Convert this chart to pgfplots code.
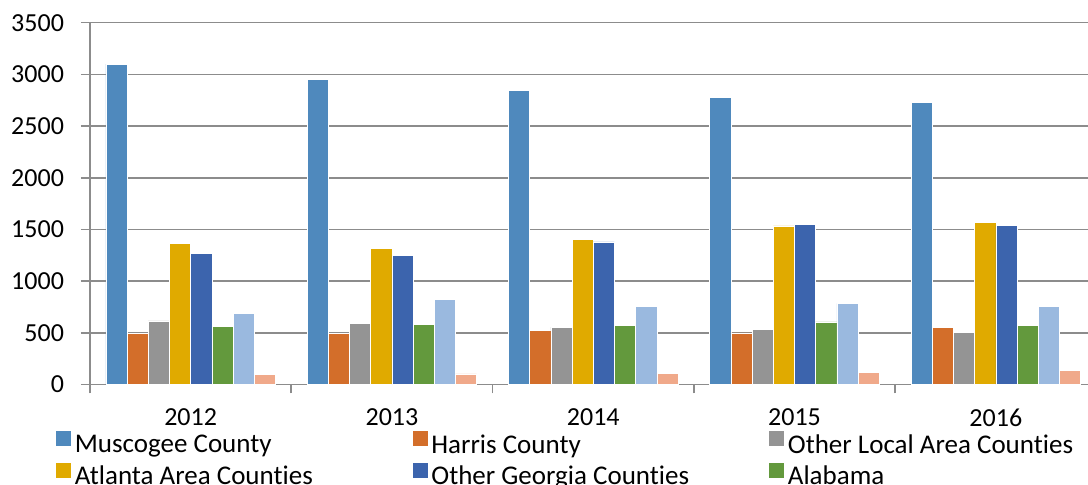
\documentclass[border=0pt]{standalone}
\usepackage{pgfplots}
\pgfplotsset{compat=1.18}
\usepackage{fontspec}
\setmainfont{Carlito}[Ligatures=NoCommon]

\definecolor{cMuscogee}{HTML}{4F89BD}
\definecolor{cHarris}{HTML}{D36E2A}
\definecolor{cLocal}{HTML}{949494}
\definecolor{cAtlanta}{HTML}{E0AA00}
\definecolor{cGeorgia}{HTML}{3C64AD}
\definecolor{cAlabama}{HTML}{63993D}
\definecolor{cSeven}{HTML}{9AB9DF}
\definecolor{cEight}{HTML}{F0A98A}
\definecolor{axisgray}{HTML}{8C8C8C}

\newcommand{\tfont}{\fontsize{13}{15.5}\selectfont}
\newcommand{\lfont}{\fontsize{13.5}{16}\selectfont}

\begin{document}
\begin{tikzpicture}
\begin{axis}[
    at={(0,0)}, anchor=south west,
    scale only axis,
    width=503.25pt, height=180.9pt,
    ybar=0pt, bar width=10.6pt,
    xmin=0.5, xmax=5.5,
    ymin=0, ymax=3500,
    ytick={0,500,...,3500},
    xtick={0.5,1.5,...,5.5}, xticklabels={},
    extra x ticks={1,2,3,4,5},
    extra x tick labels={2012,2013,2014,2015,2016},
    extra x tick style={major tick length=0pt, xticklabel style={yshift=-8.5pt}},
    yticklabel style={xshift=-5pt},
    axis x line*=bottom, axis y line*=left,
    axis line style={draw=axisgray, line width=0.8pt},
    ymajorgrids,
    grid style={draw=axisgray, line width=0.8pt},
    tick align=outside, major tick length=4.5pt,
    tick style={draw=axisgray, line width=0.8pt},
    /pgf/number format/assume math mode=true,
    /pgf/number format/1000 sep={},
    tick label style={font=\tfont, text=black},
    legend columns=3,
    legend cell align=left,
    legend style={at={(0,0)}, anchor=north west, xshift=-17pt, yshift=-23pt,
        draw=none, fill=none, inner sep=0pt, font=\lfont,
        nodes={inner sep=1.75pt},
        /tikz/every even column/.append style={column sep=0pt},
        /tikz/row sep=1.5pt},
    legend image code/.code={\path[#1,draw=none] (0pt,-0.5pt) rectangle (7.5pt,7pt);},
]
% Muscogee County
\addplot[fill=cMuscogee, draw=white, line width=0.3pt] coordinates {(1,3100) (2,2955) (3,2845) (4,2780) (5,2730)};
% Harris County
\addplot[fill=cHarris, draw=white, line width=0.3pt] coordinates {(1,495) (2,495) (3,525) (4,500) (5,555)};
% Other Local Area Counties
\addplot[fill=cLocal, draw=white, line width=0.3pt] coordinates {(1,615) (2,590) (3,555) (4,530) (5,505)};
% Atlanta Area Counties
\addplot[fill=cAtlanta, draw=white, line width=0.3pt] coordinates {(1,1365) (2,1320) (3,1405) (4,1535) (5,1570)};
% Other Georgia Counties
\addplot[fill=cGeorgia, draw=white, line width=0.3pt] coordinates {(1,1270) (2,1250) (3,1380) (4,1550) (5,1540)};
% Alabama
\addplot[fill=cAlabama, draw=white, line width=0.3pt] coordinates {(1,560) (2,578) (3,575) (4,605) (5,572)};
% series 7 (legend entry cut off in the reference)
\addplot[fill=cSeven, draw=white, line width=0.3pt] coordinates {(1,688) (2,826) (3,755) (4,785) (5,752)};
% series 8 (legend entry cut off in the reference)
\addplot[fill=cEight, draw=white, line width=0.3pt] coordinates {(1,100) (2,103) (3,110) (4,117) (5,135)};
\addlegendentry{\makebox[167.25pt][l]{Muscogee County}}
\addlegendentry{\makebox[167.25pt][l]{Harris County}}
\addlegendentry{\makebox[167.25pt][l]{Other Local Area Counties}}
\addlegendentry{\makebox[167.25pt][l]{Atlanta Area Counties}}
\addlegendentry{\makebox[167.25pt][l]{Other Georgia Counties}}
\addlegendentry{\makebox[167.25pt][l]{Alabama}}
\end{axis}
\pgfresetboundingbox
\path[use as bounding box] (-45pt,-50.25pt) rectangle (499pt,192.25pt);
\end{tikzpicture}
\end{document}
